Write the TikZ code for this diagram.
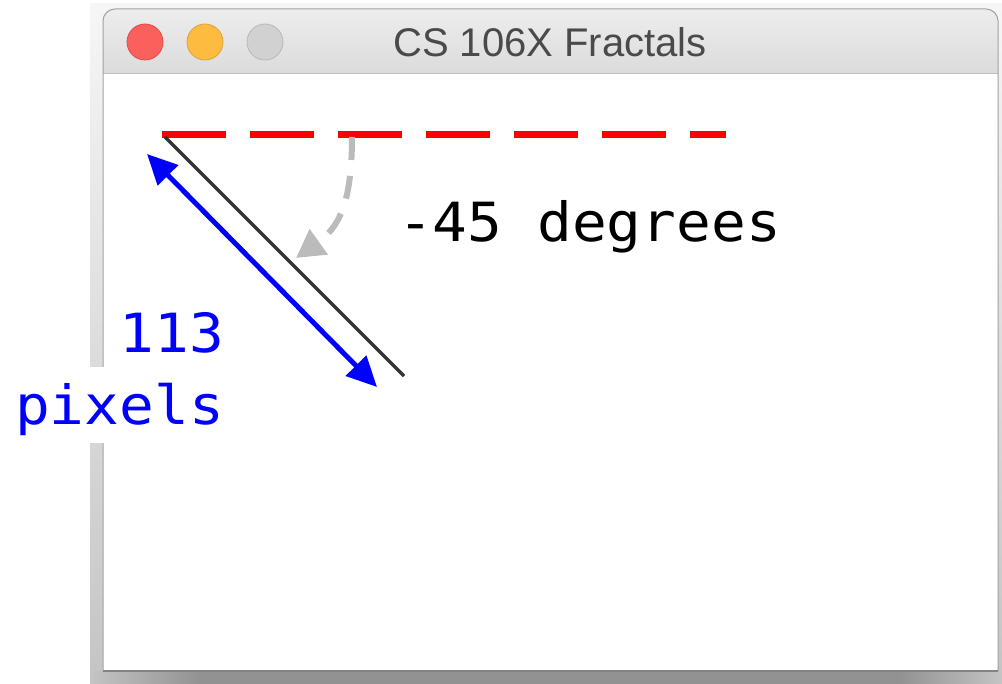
\documentclass[tikz,border=0pt]{standalone}
\usepackage{fontspec}
\usetikzlibrary{arrows.meta}
\newfontfamily\monofont[FakeStretch=1.07]{DejaVu Sans Mono}
\newfontfamily\titlefont{Liberation Sans}
\definecolor{bgtop}{HTML}{F6F6F6}
\definecolor{bgbot}{HTML}{C4C4C4}
\definecolor{shdark}{HTML}{929292}
\definecolor{bartop}{HTML}{EDEDED}
\definecolor{barbot}{HTML}{D4D4D4}
\definecolor{winborder}{HTML}{A2A2A2}
\definecolor{barline}{HTML}{BDBDBD}
\definecolor{redlight}{HTML}{FC605C}
\definecolor{rededge}{HTML}{DE4A46}
\definecolor{yellight}{HTML}{FDBC40}
\definecolor{yeledge}{HTML}{DEA236}
\definecolor{graylight}{HTML}{D1D1D1}
\definecolor{grayedge}{HTML}{B8B8B8}
\definecolor{titlegray}{HTML}{4A4A4A}
\definecolor{arcgray}{HTML}{BBBBBB}
\definecolor{pureblue}{HTML}{0000FF}
\definecolor{purered}{HTML}{FF0000}
\tikzset{
  light/.style={circle, minimum size=36pt, inner sep=0pt, line width=0.8pt},
  monotext/.style={inner sep=0pt, font=\monofont\fontsize{54}{64}\selectfont},
  reddash/.style={purered, line width=7pt, dash pattern=on 64pt off 24pt},
  turtle/.style={black!80, line width=3.5pt},
  lenarrow/.style={pureblue, line width=5pt, {Triangle[length=30pt,width=28pt]}-{Triangle[length=30pt,width=28pt]}},
  anglearrow/.style={arcgray, line width=6pt, dash pattern=on 23pt off 16pt, -{Triangle[length=28pt,width=30pt]}}
}
\begin{document}
\begin{tikzpicture}[x=1pt,y=-1pt]
\useasboundingbox (0,0) rectangle (1002,684);
\fill[white] (0,0) rectangle (1002,684);
% screenshot background and shadow
\shade[top color=bgtop, bottom color=bgbot] (90,4) rectangle (1002,684);
\shade[left color=bgbot, right color=shdark] (90,671) rectangle (200,684);
\fill[shdark] (200,671) rectangle (900,684);
\shade[left color=shdark, right color=bgbot] (900,671) rectangle (1002,684);
% window
\shade[top color=bartop, bottom color=barbot, rounded corners=12pt] (103,9) rectangle (998,100);
\fill[white] (103,74) rectangle (998,671);
\draw[barline, line width=1pt] (103,74) -- (998,74);
\draw[winborder, line width=1pt, rounded corners=12pt] (103,671) -- (103,9) -- (998,9) -- (998,671);
\draw[winborder!80!black, line width=1.2pt] (103,671) -- (998,671);
% traffic lights
\node[light, fill=redlight, draw=rededge] (close) at (145,42) {};
\node[light, fill=yellight, draw=yeledge] (mini) at (205,42) {};
\node[light, fill=graylight, draw=grayedge] (zoom) at (265,42) {};
\node[anchor=base, inner sep=0pt, text=titlegray, font=\titlefont\fontsize{40}{48}\selectfont] (title) at (550,57) {CS 106X Fractals};
% drawing
\coordinate (r1) at (162,134.5);
\coordinate (r2) at (726,134.5);
\draw[reddash] (r1) -- (r2);
\coordinate (t1) at (165,137);
\coordinate (t2) at (404,376);
\draw[turtle] (t1) -- (t2);
\coordinate (b1) at (147,154);
\coordinate (b2) at (377,387);
\draw[lenarrow] (b1) -- (b2);
\coordinate (g1) at (352,137);
\coordinate (g2) at (296,258);
\draw[anglearrow] (g1) .. controls (352,205) and (338,228) .. (g2);
% labels
\node[monotext, anchor=base west] (deg) at (398,242) {-45 degrees};
\node[monotext, anchor=base east, text=pureblue] (len) at (224,353) {113};
\node[monotext, anchor=base east, text=pureblue, fill=white, text height=58pt, text depth=18pt] (px) at (224,425) {pixels};
\end{tikzpicture}
\end{document}
